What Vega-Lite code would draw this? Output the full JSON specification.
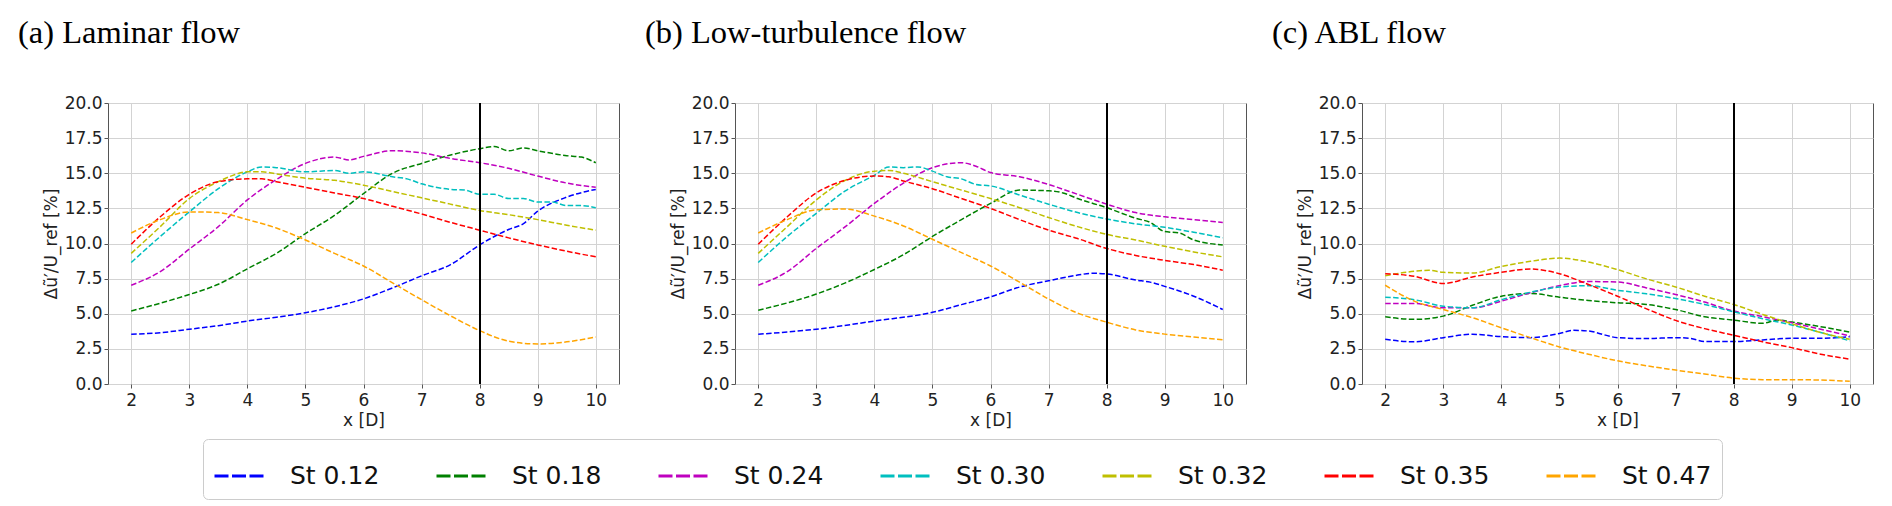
{
  "$schema": "https://vega.github.io/schema/vega-lite/v6.json",
  "description": "Turbulence added by the pulsed inflow for seven Strouhal numbers in three inflow conditions",
  "padding": {"left": 17, "top": 16, "right": 5, "bottom": 5},
  "data": {
    "values": [
      {"flow":"a","st":"St 0.12","x":2,"y":3.54},{"flow":"a","st":"St 0.12","x":2.5,"y":3.65},{"flow":"a","st":"St 0.12","x":3,"y":3.9},{"flow":"a","st":"St 0.12","x":3.5,"y":4.15},{"flow":"a","st":"St 0.12","x":4,"y":4.48},{"flow":"a","st":"St 0.12","x":4.5,"y":4.75},{"flow":"a","st":"St 0.12","x":5,"y":5.07},{"flow":"a","st":"St 0.12","x":5.5,"y":5.5},{"flow":"a","st":"St 0.12","x":6,"y":6.06},{"flow":"a","st":"St 0.12","x":6.5,"y":6.84},{"flow":"a","st":"St 0.12","x":7,"y":7.7},{"flow":"a","st":"St 0.12","x":7.5,"y":8.5},{"flow":"a","st":"St 0.12","x":8,"y":9.9},{"flow":"a","st":"St 0.12","x":8.5,"y":11.0},{"flow":"a","st":"St 0.12","x":8.75,"y":11.4},{"flow":"a","st":"St 0.12","x":9,"y":12.3},{"flow":"a","st":"St 0.12","x":9.5,"y":13.3},{"flow":"a","st":"St 0.12","x":10,"y":13.85},
      {"flow":"a","st":"St 0.18","x":2,"y":5.2},{"flow":"a","st":"St 0.18","x":2.5,"y":5.75},{"flow":"a","st":"St 0.18","x":3,"y":6.37},{"flow":"a","st":"St 0.18","x":3.5,"y":7.1},{"flow":"a","st":"St 0.18","x":4,"y":8.2},{"flow":"a","st":"St 0.18","x":4.5,"y":9.3},{"flow":"a","st":"St 0.18","x":5,"y":10.7},{"flow":"a","st":"St 0.18","x":5.5,"y":12.0},{"flow":"a","st":"St 0.18","x":6,"y":13.55},{"flow":"a","st":"St 0.18","x":6.5,"y":15.0},{"flow":"a","st":"St 0.18","x":7,"y":15.7},{"flow":"a","st":"St 0.18","x":7.5,"y":16.3},{"flow":"a","st":"St 0.18","x":8,"y":16.75},{"flow":"a","st":"St 0.18","x":8.25,"y":16.9},{"flow":"a","st":"St 0.18","x":8.5,"y":16.6},{"flow":"a","st":"St 0.18","x":8.75,"y":16.8},{"flow":"a","st":"St 0.18","x":9,"y":16.6},{"flow":"a","st":"St 0.18","x":9.5,"y":16.25},{"flow":"a","st":"St 0.18","x":9.75,"y":16.15},{"flow":"a","st":"St 0.18","x":10,"y":15.75},
      {"flow":"a","st":"St 0.24","x":2,"y":7.03},{"flow":"a","st":"St 0.24","x":2.5,"y":8.0},{"flow":"a","st":"St 0.24","x":3,"y":9.6},{"flow":"a","st":"St 0.24","x":3.5,"y":11.2},{"flow":"a","st":"St 0.24","x":4,"y":13.1},{"flow":"a","st":"St 0.24","x":4.5,"y":14.55},{"flow":"a","st":"St 0.24","x":5,"y":15.7},{"flow":"a","st":"St 0.24","x":5.5,"y":16.15},{"flow":"a","st":"St 0.24","x":5.75,"y":15.95},{"flow":"a","st":"St 0.24","x":6,"y":16.2},{"flow":"a","st":"St 0.24","x":6.5,"y":16.6},{"flow":"a","st":"St 0.24","x":7,"y":16.45},{"flow":"a","st":"St 0.24","x":7.5,"y":16.05},{"flow":"a","st":"St 0.24","x":8,"y":15.75},{"flow":"a","st":"St 0.24","x":8.5,"y":15.35},{"flow":"a","st":"St 0.24","x":9,"y":14.8},{"flow":"a","st":"St 0.24","x":9.5,"y":14.3},{"flow":"a","st":"St 0.24","x":10,"y":14.0},
      {"flow":"a","st":"St 0.30","x":2,"y":8.65},{"flow":"a","st":"St 0.30","x":2.5,"y":10.5},{"flow":"a","st":"St 0.30","x":3,"y":12.25},{"flow":"a","st":"St 0.30","x":3.5,"y":13.9},{"flow":"a","st":"St 0.30","x":4,"y":15.1},{"flow":"a","st":"St 0.30","x":4.25,"y":15.45},{"flow":"a","st":"St 0.30","x":4.5,"y":15.4},{"flow":"a","st":"St 0.30","x":5,"y":15.1},{"flow":"a","st":"St 0.30","x":5.5,"y":15.2},{"flow":"a","st":"St 0.30","x":5.75,"y":15.0},{"flow":"a","st":"St 0.30","x":6,"y":15.1},{"flow":"a","st":"St 0.30","x":6.5,"y":14.75},{"flow":"a","st":"St 0.30","x":6.75,"y":14.6},{"flow":"a","st":"St 0.30","x":7,"y":14.25},{"flow":"a","st":"St 0.30","x":7.5,"y":13.85},{"flow":"a","st":"St 0.30","x":7.75,"y":13.8},{"flow":"a","st":"St 0.30","x":8,"y":13.5},{"flow":"a","st":"St 0.30","x":8.25,"y":13.5},{"flow":"a","st":"St 0.30","x":8.5,"y":13.2},{"flow":"a","st":"St 0.30","x":8.75,"y":13.2},{"flow":"a","st":"St 0.30","x":9,"y":12.95},{"flow":"a","st":"St 0.30","x":9.25,"y":12.95},{"flow":"a","st":"St 0.30","x":9.5,"y":12.7},{"flow":"a","st":"St 0.30","x":9.75,"y":12.7},{"flow":"a","st":"St 0.30","x":10,"y":12.55},
      {"flow":"a","st":"St 0.32","x":2,"y":9.3},{"flow":"a","st":"St 0.32","x":2.5,"y":11.2},{"flow":"a","st":"St 0.32","x":3,"y":13.2},{"flow":"a","st":"St 0.32","x":3.5,"y":14.4},{"flow":"a","st":"St 0.32","x":3.75,"y":14.85},{"flow":"a","st":"St 0.32","x":4,"y":15.1},{"flow":"a","st":"St 0.32","x":4.25,"y":15.1},{"flow":"a","st":"St 0.32","x":4.5,"y":14.95},{"flow":"a","st":"St 0.32","x":5,"y":14.65},{"flow":"a","st":"St 0.32","x":5.5,"y":14.5},{"flow":"a","st":"St 0.32","x":6,"y":14.15},{"flow":"a","st":"St 0.32","x":6.5,"y":13.7},{"flow":"a","st":"St 0.32","x":7,"y":13.25},{"flow":"a","st":"St 0.32","x":7.5,"y":12.8},{"flow":"a","st":"St 0.32","x":8,"y":12.35},{"flow":"a","st":"St 0.32","x":8.5,"y":12.05},{"flow":"a","st":"St 0.32","x":9,"y":11.7},{"flow":"a","st":"St 0.32","x":9.5,"y":11.3},{"flow":"a","st":"St 0.32","x":10,"y":10.95},
      {"flow":"a","st":"St 0.35","x":2,"y":9.95},{"flow":"a","st":"St 0.35","x":2.5,"y":11.9},{"flow":"a","st":"St 0.35","x":3,"y":13.5},{"flow":"a","st":"St 0.35","x":3.5,"y":14.4},{"flow":"a","st":"St 0.35","x":4,"y":14.6},{"flow":"a","st":"St 0.35","x":4.25,"y":14.6},{"flow":"a","st":"St 0.35","x":4.5,"y":14.4},{"flow":"a","st":"St 0.35","x":5,"y":14.0},{"flow":"a","st":"St 0.35","x":5.5,"y":13.6},{"flow":"a","st":"St 0.35","x":6,"y":13.2},{"flow":"a","st":"St 0.35","x":6.5,"y":12.65},{"flow":"a","st":"St 0.35","x":7,"y":12.1},{"flow":"a","st":"St 0.35","x":7.5,"y":11.5},{"flow":"a","st":"St 0.35","x":8,"y":10.95},{"flow":"a","st":"St 0.35","x":8.5,"y":10.4},{"flow":"a","st":"St 0.35","x":9,"y":9.9},{"flow":"a","st":"St 0.35","x":9.5,"y":9.45},{"flow":"a","st":"St 0.35","x":10,"y":9.05},
      {"flow":"a","st":"St 0.47","x":2,"y":10.75},{"flow":"a","st":"St 0.47","x":2.5,"y":11.7},{"flow":"a","st":"St 0.47","x":3,"y":12.25},{"flow":"a","st":"St 0.47","x":3.5,"y":12.2},{"flow":"a","st":"St 0.47","x":4,"y":11.7},{"flow":"a","st":"St 0.47","x":4.5,"y":11.1},{"flow":"a","st":"St 0.47","x":5,"y":10.25},{"flow":"a","st":"St 0.47","x":5.5,"y":9.3},{"flow":"a","st":"St 0.47","x":6,"y":8.4},{"flow":"a","st":"St 0.47","x":6.5,"y":7.2},{"flow":"a","st":"St 0.47","x":7,"y":6.0},{"flow":"a","st":"St 0.47","x":7.5,"y":4.85},{"flow":"a","st":"St 0.47","x":8,"y":3.8},{"flow":"a","st":"St 0.47","x":8.5,"y":3.05},{"flow":"a","st":"St 0.47","x":9,"y":2.85},{"flow":"a","st":"St 0.47","x":9.5,"y":3.0},{"flow":"a","st":"St 0.47","x":10,"y":3.35},
      {"flow":"b","st":"St 0.12","x":2,"y":3.54},{"flow":"b","st":"St 0.12","x":3,"y":3.9},{"flow":"b","st":"St 0.12","x":4,"y":4.48},{"flow":"b","st":"St 0.12","x":5,"y":5.1},{"flow":"b","st":"St 0.12","x":5.5,"y":5.65},{"flow":"b","st":"St 0.12","x":6,"y":6.2},{"flow":"b","st":"St 0.12","x":6.5,"y":6.9},{"flow":"b","st":"St 0.12","x":7,"y":7.35},{"flow":"b","st":"St 0.12","x":7.5,"y":7.75},{"flow":"b","st":"St 0.12","x":7.75,"y":7.88},{"flow":"b","st":"St 0.12","x":8,"y":7.83},{"flow":"b","st":"St 0.12","x":8.5,"y":7.4},{"flow":"b","st":"St 0.12","x":8.75,"y":7.25},{"flow":"b","st":"St 0.12","x":9,"y":6.95},{"flow":"b","st":"St 0.12","x":9.5,"y":6.25},{"flow":"b","st":"St 0.12","x":10,"y":5.3},
      {"flow":"b","st":"St 0.18","x":2,"y":5.25},{"flow":"b","st":"St 0.18","x":3,"y":6.4},{"flow":"b","st":"St 0.18","x":3.5,"y":7.2},{"flow":"b","st":"St 0.18","x":4,"y":8.15},{"flow":"b","st":"St 0.18","x":4.5,"y":9.2},{"flow":"b","st":"St 0.18","x":5,"y":10.5},{"flow":"b","st":"St 0.18","x":5.5,"y":11.7},{"flow":"b","st":"St 0.18","x":6,"y":12.85},{"flow":"b","st":"St 0.18","x":6.5,"y":13.8},{"flow":"b","st":"St 0.18","x":7,"y":13.75},{"flow":"b","st":"St 0.18","x":7.25,"y":13.6},{"flow":"b","st":"St 0.18","x":7.5,"y":13.2},{"flow":"b","st":"St 0.18","x":8,"y":12.55},{"flow":"b","st":"St 0.18","x":8.5,"y":11.8},{"flow":"b","st":"St 0.18","x":8.75,"y":11.5},{"flow":"b","st":"St 0.18","x":9,"y":10.85},{"flow":"b","st":"St 0.18","x":9.25,"y":10.75},{"flow":"b","st":"St 0.18","x":9.5,"y":10.25},{"flow":"b","st":"St 0.18","x":10,"y":9.9},
      {"flow":"b","st":"St 0.24","x":2,"y":7.03},{"flow":"b","st":"St 0.24","x":2.5,"y":8.0},{"flow":"b","st":"St 0.24","x":3,"y":9.65},{"flow":"b","st":"St 0.24","x":3.5,"y":11.2},{"flow":"b","st":"St 0.24","x":4,"y":12.85},{"flow":"b","st":"St 0.24","x":4.5,"y":14.3},{"flow":"b","st":"St 0.24","x":5,"y":15.4},{"flow":"b","st":"St 0.24","x":5.5,"y":15.75},{"flow":"b","st":"St 0.24","x":5.75,"y":15.5},{"flow":"b","st":"St 0.24","x":6,"y":15.05},{"flow":"b","st":"St 0.24","x":6.5,"y":14.75},{"flow":"b","st":"St 0.24","x":7,"y":14.2},{"flow":"b","st":"St 0.24","x":7.5,"y":13.5},{"flow":"b","st":"St 0.24","x":8,"y":12.8},{"flow":"b","st":"St 0.24","x":8.5,"y":12.2},{"flow":"b","st":"St 0.24","x":9,"y":11.9},{"flow":"b","st":"St 0.24","x":9.5,"y":11.7},{"flow":"b","st":"St 0.24","x":10,"y":11.5},
      {"flow":"b","st":"St 0.30","x":2,"y":8.65},{"flow":"b","st":"St 0.30","x":2.5,"y":10.5},{"flow":"b","st":"St 0.30","x":3,"y":12.15},{"flow":"b","st":"St 0.30","x":3.5,"y":13.75},{"flow":"b","st":"St 0.30","x":4,"y":14.85},{"flow":"b","st":"St 0.30","x":4.25,"y":15.45},{"flow":"b","st":"St 0.30","x":4.5,"y":15.4},{"flow":"b","st":"St 0.30","x":4.75,"y":15.45},{"flow":"b","st":"St 0.30","x":5,"y":15.15},{"flow":"b","st":"St 0.30","x":5.25,"y":14.75},{"flow":"b","st":"St 0.30","x":5.5,"y":14.6},{"flow":"b","st":"St 0.30","x":5.75,"y":14.2},{"flow":"b","st":"St 0.30","x":6,"y":14.1},{"flow":"b","st":"St 0.30","x":6.5,"y":13.45},{"flow":"b","st":"St 0.30","x":7,"y":12.8},{"flow":"b","st":"St 0.30","x":7.5,"y":12.2},{"flow":"b","st":"St 0.30","x":8,"y":11.75},{"flow":"b","st":"St 0.30","x":8.5,"y":11.4},{"flow":"b","st":"St 0.30","x":9,"y":11.15},{"flow":"b","st":"St 0.30","x":9.5,"y":10.8},{"flow":"b","st":"St 0.30","x":10,"y":10.4},
      {"flow":"b","st":"St 0.32","x":2,"y":9.3},{"flow":"b","st":"St 0.32","x":2.5,"y":11.2},{"flow":"b","st":"St 0.32","x":3,"y":13.1},{"flow":"b","st":"St 0.32","x":3.5,"y":14.5},{"flow":"b","st":"St 0.32","x":4,"y":15.15},{"flow":"b","st":"St 0.32","x":4.25,"y":15.2},{"flow":"b","st":"St 0.32","x":4.5,"y":15.0},{"flow":"b","st":"St 0.32","x":5,"y":14.4},{"flow":"b","st":"St 0.32","x":5.5,"y":13.8},{"flow":"b","st":"St 0.32","x":6,"y":13.2},{"flow":"b","st":"St 0.32","x":6.5,"y":12.55},{"flow":"b","st":"St 0.32","x":7,"y":11.85},{"flow":"b","st":"St 0.32","x":7.5,"y":11.2},{"flow":"b","st":"St 0.32","x":8,"y":10.65},{"flow":"b","st":"St 0.32","x":8.5,"y":10.25},{"flow":"b","st":"St 0.32","x":9,"y":9.8},{"flow":"b","st":"St 0.32","x":9.5,"y":9.4},{"flow":"b","st":"St 0.32","x":10,"y":9.05},
      {"flow":"b","st":"St 0.35","x":2,"y":9.95},{"flow":"b","st":"St 0.35","x":2.5,"y":11.9},{"flow":"b","st":"St 0.35","x":3,"y":13.6},{"flow":"b","st":"St 0.35","x":3.5,"y":14.5},{"flow":"b","st":"St 0.35","x":4,"y":14.8},{"flow":"b","st":"St 0.35","x":4.25,"y":14.75},{"flow":"b","st":"St 0.35","x":4.5,"y":14.45},{"flow":"b","st":"St 0.35","x":5,"y":13.9},{"flow":"b","st":"St 0.35","x":5.5,"y":13.2},{"flow":"b","st":"St 0.35","x":6,"y":12.5},{"flow":"b","st":"St 0.35","x":6.5,"y":11.7},{"flow":"b","st":"St 0.35","x":7,"y":10.95},{"flow":"b","st":"St 0.35","x":7.5,"y":10.35},{"flow":"b","st":"St 0.35","x":8,"y":9.65},{"flow":"b","st":"St 0.35","x":8.5,"y":9.15},{"flow":"b","st":"St 0.35","x":9,"y":8.8},{"flow":"b","st":"St 0.35","x":9.5,"y":8.5},{"flow":"b","st":"St 0.35","x":10,"y":8.1},
      {"flow":"b","st":"St 0.47","x":2,"y":10.75},{"flow":"b","st":"St 0.47","x":2.5,"y":11.7},{"flow":"b","st":"St 0.47","x":3,"y":12.4},{"flow":"b","st":"St 0.47","x":3.5,"y":12.45},{"flow":"b","st":"St 0.47","x":4,"y":11.95},{"flow":"b","st":"St 0.47","x":4.5,"y":11.25},{"flow":"b","st":"St 0.47","x":5,"y":10.3},{"flow":"b","st":"St 0.47","x":5.5,"y":9.35},{"flow":"b","st":"St 0.47","x":6,"y":8.4},{"flow":"b","st":"St 0.47","x":6.5,"y":7.25},{"flow":"b","st":"St 0.47","x":7,"y":6.05},{"flow":"b","st":"St 0.47","x":7.5,"y":5.05},{"flow":"b","st":"St 0.47","x":8,"y":4.4},{"flow":"b","st":"St 0.47","x":8.5,"y":3.85},{"flow":"b","st":"St 0.47","x":9,"y":3.55},{"flow":"b","st":"St 0.47","x":9.5,"y":3.35},{"flow":"b","st":"St 0.47","x":10,"y":3.15},
      {"flow":"c","st":"St 0.12","x":2,"y":3.18},{"flow":"c","st":"St 0.12","x":2.5,"y":3.0},{"flow":"c","st":"St 0.12","x":3,"y":3.3},{"flow":"c","st":"St 0.12","x":3.5,"y":3.54},{"flow":"c","st":"St 0.12","x":4,"y":3.37},{"flow":"c","st":"St 0.12","x":4.5,"y":3.3},{"flow":"c","st":"St 0.12","x":5,"y":3.6},{"flow":"c","st":"St 0.12","x":5.25,"y":3.82},{"flow":"c","st":"St 0.12","x":5.5,"y":3.77},{"flow":"c","st":"St 0.12","x":6,"y":3.3},{"flow":"c","st":"St 0.12","x":6.5,"y":3.23},{"flow":"c","st":"St 0.12","x":7,"y":3.3},{"flow":"c","st":"St 0.12","x":7.25,"y":3.25},{"flow":"c","st":"St 0.12","x":7.5,"y":3.02},{"flow":"c","st":"St 0.12","x":8,"y":3.02},{"flow":"c","st":"St 0.12","x":8.5,"y":3.14},{"flow":"c","st":"St 0.12","x":9,"y":3.25},{"flow":"c","st":"St 0.12","x":9.5,"y":3.25},{"flow":"c","st":"St 0.12","x":10,"y":3.37},
      {"flow":"c","st":"St 0.18","x":2,"y":4.79},{"flow":"c","st":"St 0.18","x":2.5,"y":4.6},{"flow":"c","st":"St 0.18","x":3,"y":4.83},{"flow":"c","st":"St 0.18","x":3.5,"y":5.6},{"flow":"c","st":"St 0.18","x":4,"y":6.25},{"flow":"c","st":"St 0.18","x":4.5,"y":6.44},{"flow":"c","st":"St 0.18","x":5,"y":6.18},{"flow":"c","st":"St 0.18","x":5.5,"y":5.94},{"flow":"c","st":"St 0.18","x":6,"y":5.78},{"flow":"c","st":"St 0.18","x":6.5,"y":5.66},{"flow":"c","st":"St 0.18","x":7,"y":5.3},{"flow":"c","st":"St 0.18","x":7.5,"y":4.79},{"flow":"c","st":"St 0.18","x":8,"y":4.55},{"flow":"c","st":"St 0.18","x":8.5,"y":4.32},{"flow":"c","st":"St 0.18","x":8.75,"y":4.55},{"flow":"c","st":"St 0.18","x":9,"y":4.41},{"flow":"c","st":"St 0.18","x":9.5,"y":4.08},{"flow":"c","st":"St 0.18","x":10,"y":3.7},
      {"flow":"c","st":"St 0.24","x":2,"y":5.73},{"flow":"c","st":"St 0.24","x":2.5,"y":5.73},{"flow":"c","st":"St 0.24","x":3,"y":5.42},{"flow":"c","st":"St 0.24","x":3.5,"y":5.42},{"flow":"c","st":"St 0.24","x":4,"y":5.9},{"flow":"c","st":"St 0.24","x":4.5,"y":6.49},{"flow":"c","st":"St 0.24","x":5,"y":7.0},{"flow":"c","st":"St 0.24","x":5.5,"y":7.29},{"flow":"c","st":"St 0.24","x":6,"y":7.26},{"flow":"c","st":"St 0.24","x":6.5,"y":6.84},{"flow":"c","st":"St 0.24","x":7,"y":6.37},{"flow":"c","st":"St 0.24","x":7.5,"y":5.83},{"flow":"c","st":"St 0.24","x":8,"y":5.19},{"flow":"c","st":"St 0.24","x":8.5,"y":4.79},{"flow":"c","st":"St 0.24","x":9,"y":4.36},{"flow":"c","st":"St 0.24","x":9.5,"y":3.9},{"flow":"c","st":"St 0.24","x":10,"y":3.42},
      {"flow":"c","st":"St 0.30","x":2,"y":6.18},{"flow":"c","st":"St 0.30","x":2.5,"y":6.0},{"flow":"c","st":"St 0.30","x":3,"y":5.54},{"flow":"c","st":"St 0.30","x":3.5,"y":5.42},{"flow":"c","st":"St 0.30","x":4,"y":6.0},{"flow":"c","st":"St 0.30","x":4.5,"y":6.53},{"flow":"c","st":"St 0.30","x":5,"y":6.9},{"flow":"c","st":"St 0.30","x":5.5,"y":7.0},{"flow":"c","st":"St 0.30","x":6,"y":6.67},{"flow":"c","st":"St 0.30","x":6.5,"y":6.42},{"flow":"c","st":"St 0.30","x":7,"y":6.08},{"flow":"c","st":"St 0.30","x":7.5,"y":5.66},{"flow":"c","st":"St 0.30","x":8,"y":5.14},{"flow":"c","st":"St 0.30","x":8.5,"y":4.65},{"flow":"c","st":"St 0.30","x":9,"y":4.2},{"flow":"c","st":"St 0.30","x":9.5,"y":3.66},{"flow":"c","st":"St 0.30","x":10,"y":3.07},
      {"flow":"c","st":"St 0.32","x":2,"y":7.71},{"flow":"c","st":"St 0.32","x":2.5,"y":8.02},{"flow":"c","st":"St 0.32","x":2.75,"y":8.09},{"flow":"c","st":"St 0.32","x":3,"y":7.95},{"flow":"c","st":"St 0.32","x":3.5,"y":7.9},{"flow":"c","st":"St 0.32","x":4,"y":8.37},{"flow":"c","st":"St 0.32","x":4.5,"y":8.73},{"flow":"c","st":"St 0.32","x":5,"y":8.96},{"flow":"c","st":"St 0.32","x":5.5,"y":8.68},{"flow":"c","st":"St 0.32","x":6,"y":8.14},{"flow":"c","st":"St 0.32","x":6.5,"y":7.48},{"flow":"c","st":"St 0.32","x":7,"y":6.91},{"flow":"c","st":"St 0.32","x":7.5,"y":6.25},{"flow":"c","st":"St 0.32","x":8,"y":5.66},{"flow":"c","st":"St 0.32","x":8.5,"y":4.95},{"flow":"c","st":"St 0.32","x":9,"y":4.29},{"flow":"c","st":"St 0.32","x":9.5,"y":3.66},{"flow":"c","st":"St 0.32","x":10,"y":3.18},
      {"flow":"c","st":"St 0.35","x":2,"y":7.85},{"flow":"c","st":"St 0.35","x":2.5,"y":7.67},{"flow":"c","st":"St 0.35","x":3,"y":7.15},{"flow":"c","st":"St 0.35","x":3.5,"y":7.62},{"flow":"c","st":"St 0.35","x":4,"y":7.95},{"flow":"c","st":"St 0.35","x":4.5,"y":8.18},{"flow":"c","st":"St 0.35","x":5,"y":7.85},{"flow":"c","st":"St 0.35","x":5.5,"y":7.08},{"flow":"c","st":"St 0.35","x":6,"y":6.25},{"flow":"c","st":"St 0.35","x":6.5,"y":5.35},{"flow":"c","st":"St 0.35","x":7,"y":4.53},{"flow":"c","st":"St 0.35","x":7.5,"y":3.94},{"flow":"c","st":"St 0.35","x":8,"y":3.47},{"flow":"c","st":"St 0.35","x":8.5,"y":3.0},{"flow":"c","st":"St 0.35","x":9,"y":2.59},{"flow":"c","st":"St 0.35","x":9.5,"y":2.12},{"flow":"c","st":"St 0.35","x":10,"y":1.77},
      {"flow":"c","st":"St 0.47","x":2,"y":7.03},{"flow":"c","st":"St 0.47","x":2.5,"y":5.9},{"flow":"c","st":"St 0.47","x":3,"y":5.3},{"flow":"c","st":"St 0.47","x":3.5,"y":4.72},{"flow":"c","st":"St 0.47","x":4,"y":4.0},{"flow":"c","st":"St 0.47","x":4.5,"y":3.3},{"flow":"c","st":"St 0.47","x":5,"y":2.64},{"flow":"c","st":"St 0.47","x":5.5,"y":2.12},{"flow":"c","st":"St 0.47","x":6,"y":1.65},{"flow":"c","st":"St 0.47","x":6.5,"y":1.3},{"flow":"c","st":"St 0.47","x":7,"y":0.99},{"flow":"c","st":"St 0.47","x":7.5,"y":0.71},{"flow":"c","st":"St 0.47","x":8,"y":0.42},{"flow":"c","st":"St 0.47","x":8.5,"y":0.31},{"flow":"c","st":"St 0.47","x":9,"y":0.31},{"flow":"c","st":"St 0.47","x":9.5,"y":0.28},{"flow":"c","st":"St 0.47","x":10,"y":0.19}
    ]
  },
  "spacing": 116,
  "bounds": "flush",
  "hconcat": [
    {
      "title": {"text": "(a) Laminar flow"},
      "width": 511,
      "height": 281,
      "transform": [{"filter": "datum.flow === 'a'"}],
      "layer": [
        {
          "mark": {"type": "line", "strokeDash": [5.5, 2.4], "strokeWidth": 1.5, "interpolate": "monotone"},
          "encoding": {
            "x": {"field": "x", "type": "quantitative", "scale": {"domain": [1.6, 10.4], "nice": false}, "axis": {"values": [2, 3, 4, 5, 6, 7, 8, 9, 10], "format": "d", "title": "x [D]"}},
            "y": {"field": "y", "type": "quantitative", "scale": {"domain": [0, 20], "nice": false}, "axis": {"values": [0, 2.5, 5, 7.5, 10, 12.5, 15, 17.5, 20], "format": ".1f", "title": "Δũ′/U_ref [%]"}},
            "color": {
              "field": "st", "type": "nominal",
              "scale": {"domain": ["St 0.12", "St 0.18", "St 0.24", "St 0.30", "St 0.32", "St 0.35", "St 0.47"], "range": ["#0000ff", "#008000", "#bf00bf", "#00bfbf", "#bfbf00", "#ff0000", "#ffa500"]},
              "legend": {"orient": "none", "legendX": 95, "legendY": 336, "direction": "horizontal", "columns": 7, "title": null}
            }
          }
        },
        {
          "mark": {"type": "rule", "color": "black", "strokeWidth": 1.2},
          "encoding": {"x": {"datum": 8}}
        }
      ]
    },
    {
      "title": {"text": "(b) Low-turbulence flow"},
      "width": 511,
      "height": 281,
      "transform": [{"filter": "datum.flow === 'b'"}],
      "layer": [
        {
          "mark": {"type": "line", "strokeDash": [5.5, 2.4], "strokeWidth": 1.5, "interpolate": "monotone"},
          "encoding": {
            "x": {"field": "x", "type": "quantitative", "scale": {"domain": [1.6, 10.4], "nice": false}, "axis": {"values": [2, 3, 4, 5, 6, 7, 8, 9, 10], "format": "d", "title": "x [D]"}},
            "y": {"field": "y", "type": "quantitative", "scale": {"domain": [0, 20], "nice": false}, "axis": {"values": [0, 2.5, 5, 7.5, 10, 12.5, 15, 17.5, 20], "format": ".1f", "title": "Δũ′/U_ref [%]"}},
            "color": {"field": "st", "type": "nominal"}
          }
        },
        {
          "mark": {"type": "rule", "color": "black", "strokeWidth": 1.2},
          "encoding": {"x": {"datum": 8}}
        }
      ]
    },
    {
      "title": {"text": "(c) ABL flow"},
      "width": 511,
      "height": 281,
      "transform": [{"filter": "datum.flow === 'c'"}],
      "layer": [
        {
          "mark": {"type": "line", "strokeDash": [5.5, 2.4], "strokeWidth": 1.5, "interpolate": "monotone"},
          "encoding": {
            "x": {"field": "x", "type": "quantitative", "scale": {"domain": [1.6, 10.4], "nice": false}, "axis": {"values": [2, 3, 4, 5, 6, 7, 8, 9, 10], "format": "d", "title": "x [D]"}},
            "y": {"field": "y", "type": "quantitative", "scale": {"domain": [0, 20], "nice": false}, "axis": {"values": [0, 2.5, 5, 7.5, 10, 12.5, 15, 17.5, 20], "format": ".1f", "title": "Δũ′/U_ref [%]"}},
            "color": {"field": "st", "type": "nominal"}
          }
        },
        {
          "mark": {"type": "rule", "color": "black", "strokeWidth": 1.2},
          "encoding": {"x": {"datum": 8}}
        }
      ]
    }
  ],
  "config": {
    "background": "white",
    "view": {"stroke": "#555555", "strokeWidth": 1},
    "axis": {
      "labelFont": "DejaVu Sans", "labelFontSize": 17, "labelColor": "#222222", "labelPadding": 2,
      "titleFont": "DejaVu Sans", "titleFontSize": 17, "titleFontWeight": "normal", "titleColor": "#222222", "titlePadding": 4,
      "gridColor": "#d3d3d3", "gridWidth": 1, "tickColor": "#555555", "tickSize": 4, "domain": false
    },
    "axisX": {"labelPadding": 4},
    "legend": {
      "symbolType": "stroke", "symbolSize": 2601, "symbolStrokeWidth": 3, "symbolDash": [14, 3.5],
      "labelFont": "DejaVu Sans", "labelFontSize": 25, "labelColor": "#111111", "labelOffset": 23, "labelLimit": 0,
      "columnPadding": 50, "padding": 10, "strokeColor": "#cccccc", "cornerRadius": 5, "fillColor": "white"
    },
    "title": {
      "anchor": "start", "frame": "group", "dx": -90, "offset": 45, "baseline": "alphabetic",
      "font": "Liberation Serif", "fontSize": 32.5, "fontWeight": "normal", "color": "#000000"
    }
  }
}
